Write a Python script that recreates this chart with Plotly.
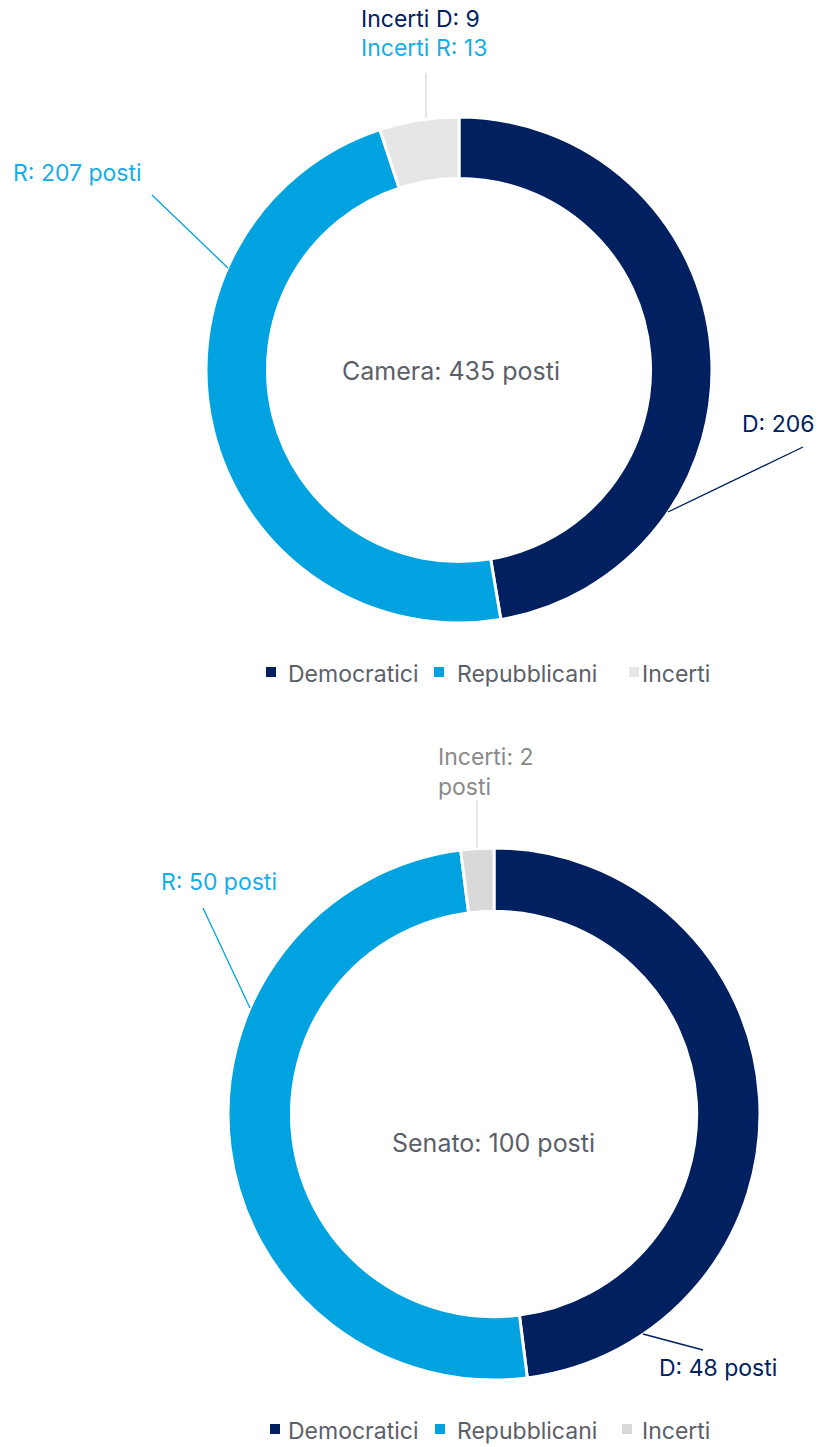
import plotly.graph_objects as go

# Seat counts
parties = ["Democratici", "Repubblicani", "Incerti"]
camera_seats = [206, 207, 22]
camera_incerti_d = 9
camera_incerti_r = 13
senato_seats = [48, 50, 2]

NAVY = "#002060"
BLUE = "#00A3E0"
BLUE_TXT = "#14AEE8"
GREY_TXT = "#8A8A8A"
TXT = "#5B6068"
FONT = "Inter"

camera_colors = [NAVY, BLUE, "#E6E6E6"]
senato_colors = [NAVY, BLUE, "#D9D9D9"]

W, H = 817, 1447


def px(x):
    return x / W


def py(y):
    return 1 - y / H


def domain(cx, cy, r):
    return dict(x=[px(cx - r), px(cx + r)], y=[py(cy + r), py(cy - r)])


fig = go.Figure()

fig.add_trace(go.Pie(
    labels=parties, values=camera_seats, hole=0.757, sort=False,
    direction="clockwise", rotation=0,
    marker=dict(colors=camera_colors, line=dict(color="white", width=3)),
    textinfo="none", domain=domain(459, 370, 253), showlegend=False,
))
fig.add_trace(go.Pie(
    labels=parties, values=senato_seats, hole=0.762, sort=False,
    direction="clockwise", rotation=0,
    marker=dict(colors=senato_colors, line=dict(color="white", width=3)),
    textinfo="none", domain=domain(494, 1114, 266), showlegend=False,
))

ann = []
shapes = []


def label(x, y, text, color, xanchor="left", size=23):
    ann.append(dict(x=px(x), y=py(y), xref="paper", yref="paper", text=text,
                    showarrow=False, xanchor=xanchor, yanchor="middle",
                    borderpad=0,
                    font=dict(family=FONT, size=size, color=color)))


# centre captions
label(451, 371, f"Camera: {sum(camera_seats)} posti", TXT, "center", 25)
label(494, 1143, f"Senato: {sum(senato_seats)} posti", TXT, "center", 25)

# Camera slice labels
label(360, 19, f"Incerti D: {camera_incerti_d}", NAVY)
label(360, 48, f"Incerti R: {camera_incerti_r}", BLUE_TXT)
label(12, 173, f"R: {camera_seats[1]} posti", BLUE_TXT)
label(816, 424, f"D: {camera_seats[0]}", NAVY, "right")

# Senato slice labels
label(437, 757, f"Incerti: {senato_seats[2]}", GREY_TXT)
label(437, 787, "posti", GREY_TXT)
label(160, 882, f"R: {senato_seats[1]} posti", BLUE_TXT)
label(658, 1368, f"D: {senato_seats[0]} posti", NAVY)


# leader lines
def leader(x0, y0, x1, y1, color):
    shapes.append(dict(type="line", xref="paper", yref="paper",
                       x0=px(x0), y0=py(y0), x1=px(x1), y1=py(y1),
                       line=dict(color=color, width=1.3)))


leader(152, 195, 228, 268, BLUE)
leader(803, 447, 668, 512, NAVY)
leader(426, 73, 426, 118, "#D9D9D9")
leader(203, 908, 250, 1008, BLUE)
leader(643, 1334, 703, 1350, NAVY)
leader(477, 800, 477, 848, "#D9D9D9")


# legends: square swatch + name
def legend_row(y, swatch_x, text_x, colors):
    for sx, tx, name, col in zip(swatch_x, text_x, parties, colors):
        shapes.append(dict(type="rect", xref="paper", yref="paper",
                           x0=px(sx), x1=px(sx + 10), y0=py(y + 3), y1=py(y - 7),
                           fillcolor=col, line=dict(width=0)))
        label(tx, y, name, TXT, "left", 23)


legend_row(674, [266, 434, 629], [287, 456, 641], camera_colors)
legend_row(1431, [270, 435, 622], [287, 456, 641], senato_colors)

fig.update_layout(
    width=W, height=H,
    margin=dict(l=0, r=0, t=0, b=0),
    paper_bgcolor="white", plot_bgcolor="white",
    annotations=ann, shapes=shapes,
)

fig.write_html("out.html")
